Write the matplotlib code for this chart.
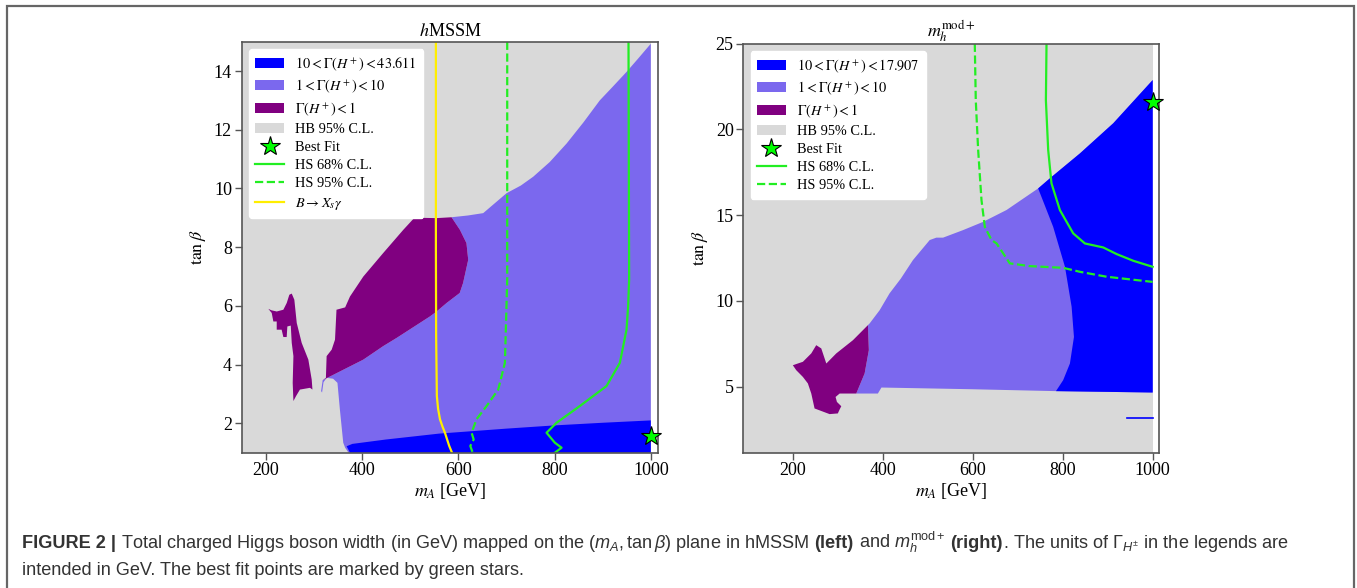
import matplotlib
matplotlib.use('Agg')
import matplotlib.pyplot as plt
from matplotlib.patches import Patch, Rectangle
from matplotlib.lines import Line2D

plt.rcParams['font.family'] = ['Liberation Serif', 'DejaVu Serif']
plt.rcParams['mathtext.fontset'] = 'stix'
# sans math for the caption (used through math_fontfamily='custom')
plt.rcParams['mathtext.rm'] = 'Liberation Sans'
plt.rcParams['mathtext.it'] = 'Liberation Sans:italic'
plt.rcParams['mathtext.bf'] = 'Liberation Sans:bold'

# ---------------- hMSSM (left) ----------------
hm_scan_mA = [150, 1000]
hm_scan_tb = [1, 15]

# 1 < Gamma < 10 region (drawn below the others)
hm_mid_mA = [372, 365, 361, 354, 349, 340, 326.5, 320, 317, 315, 318.3,
             402.7, 444, 472, 541, 555, 575.8, 603, 610, 620.7, 617, 603.5, 586,
             620, 651.8, 700.4, 730, 755.7, 790, 825, 860, 894, 920, 949.6, 975, 1000, 1000]
hm_mid_tb = [1.0, 1.17, 1.34, 2.48, 3.38, 3.52, 3.55, 3.4, 3.05, 3.1, 3.47,
             4.17, 4.63, 4.91, 5.64, 5.81, 6.1, 6.44, 6.78, 7.57, 8.14, 8.59, 9.02,
             9.08, 9.16, 9.84, 10.1, 10.4, 10.9, 11.53, 12.25, 13.0, 13.45, 13.97, 14.45, 14.93, 1.0]

# Gamma < 1 regions
hm_low_mA = [318.3, 325, 326.5, 337, 343.9, 347, 365, 375, 402.7, 444, 485.7, 506.5,
             524, 555, 586, 603.5, 617, 620.7, 610, 603, 575.8, 555, 541, 472, 444, 402.7]
hm_low_tb = [3.47, 3.55, 4.29, 4.51, 4.85, 5.87, 5.95, 6.32, 7.0, 7.8, 8.59, 8.96,
             9.0, 8.99, 9.02, 8.59, 8.14, 7.57, 6.78, 6.44, 6.1, 5.81, 5.64, 4.91, 4.63, 4.17]
hm_island_mA = [205.4, 212.4, 215.8, 222.8, 222.8, 233, 236.6, 243.5, 244.9, 252, 254,
                257.5, 256, 257.5, 263, 271, 292, 297, 295.5, 288.5, 274.7, 264.4,
                259.4, 254, 249, 243.6, 236.6, 222.8, 212]
hm_island_tb = [5.90, 5.76, 5.47, 5.47, 5.19, 5.19, 4.94, 4.94, 5.30, 5.33, 4.74,
                4.29, 3.38, 2.76, 2.93, 3.15, 3.21, 3.15, 3.49, 4.17, 4.74, 5.42,
                6.21, 6.42, 6.38, 6.10, 5.87, 5.81, 5.85]

# 10 < Gamma < 43.611 region
hm_high_mA = [375, 368, 380, 450, 560, 700, 800, 900, 1000, 1000]
hm_high_tb = [1.0, 1.22, 1.3, 1.45, 1.65, 1.82, 1.93, 2.02, 2.1, 1.0]

hm_bsg_mA = [553.5, 553.5, 554, 555.5, 558, 562, 567, 572.3, 581.2, 587]
hm_bsg_tb = [15, 8, 5, 2.93, 2.5, 2.14, 1.9, 1.68, 1.23, 1.0]
hm_hs95_mA = [701.7, 701.7, 696.9, 683, 658.9, 638, 627.7, 632, 625, 630]
hm_hs95_tb = [15, 6.9, 4.06, 3.15, 2.59, 2.14, 1.68, 1.45, 1.23, 1.0]
hm_hs68_mA = [953.7, 955, 953, 949.6, 935.7, 908, 852.6, 804.2, 783.4, 800.7, 814.6, 800.7]
hm_hs68_tb = [15, 6.9, 6.0, 5.19, 4.06, 3.27, 2.59, 2.02, 1.68, 1.34, 1.17, 1.0]
hm_best = (1000, 1.57)

# ---------------- m_h^mod+ (right) ----------------
md_scan_mA = [90, 1000]
md_scan_tb = [1.15, 25]

md_mid_mA = [341, 389, 397, 600, 785, 1000, 1000, 912.4, 838.2, 771.5, 745.4, 675,
             623, 578.5, 534, 519, 504.3, 467, 440, 415, 393, 370.8, 367, 369, 359.6]
md_mid_tb = [4.6, 4.6, 4.95, 4.85, 4.74, 4.66, 22.88, 20.36, 18.6, 17.15, 16.56, 15.30,
             14.61, 14.13, 13.69, 13.69, 13.55, 12.38, 11.3, 10.44, 9.46, 8.69, 8.59, 7.13, 5.77]
md_high_mA = [785, 1000, 1000, 912.4, 838.2, 771.5, 745.4, 778.8, 805, 819.8, 825, 816, 801]
md_high_tb = [4.74, 4.66, 22.88, 20.36, 18.6, 17.15, 16.56, 14.32, 11.99, 9.66, 7.9, 6.35, 5.38]
md_low_mA = [367, 369, 359.6, 341, 304, 295, 298, 307.7, 304, 300, 281.7, 248.3, 241,
             233.4, 222.3, 207.6, 200, 211, 222.3, 241, 252, 263.2, 274.4, 296.6, 333.6]
md_low_tb = [8.59, 7.13, 5.77, 4.6, 4.6, 4.4, 4.11, 3.86, 3.67, 3.44, 3.40, 3.73, 4.60,
             5.19, 5.57, 5.96, 6.25, 6.35, 6.45, 6.94, 7.42, 7.23, 6.35, 6.94, 7.71]
md_tail_mA = [943.6, 1000]
md_tail_tb = [3.2, 3.2]

md_hs68_mA = [764, 762.6, 767.7, 775, 793.7, 823.3, 849.4, 890, 920, 957, 1000]
md_hs68_tb = [25, 21.7, 18.8, 16.86, 15.3, 13.94, 13.35, 13.12, 12.73, 12.34, 11.99]
md_hs95_mA = [604.5, 606.7, 612, 619.4, 626.8, 641.7, 653, 682.4, 727, 801, 838, 897.7, 1000]
md_hs95_tb = [25, 21.7, 18.8, 15.88, 14.32, 13.55, 13.35, 12.19, 12.03, 11.93, 11.70, 11.41, 11.11]
md_best = (1000, 21.62)

c_high = '#0000ff'
c_mid = '#7b68ee'
c_low = '#800080'
c_hb = '#d9d9d9'
c_hs = '#22ee22'
c_bsg = '#ffee00'

fig = plt.figure(figsize=(13.57, 5.88), dpi=100)

# frame around the whole figure
fig.patches.append(Rectangle((7 / 1357, -0.1), 1347 / 1357, 1.1 - 6.5 / 588,
                             transform=fig.transFigure, fill=False,
                             edgecolor='#666666', lw=1.6))

axL = fig.add_axes([0.1781, 0.2301, 0.3068, 0.6990])
axR = fig.add_axes([0.5478, 0.2301, 0.3066, 0.6956])


def style(ax):
    for s in ax.spines.values():
        s.set_color('#555555')
        s.set_linewidth(1.2)
    ax.tick_params(direction='out', length=5, width=1.0, color='#555555',
                   labelsize=13, pad=2, top=False, right=False)
    ax.set_xlabel(r'$m_A$ [GeV]', fontsize=13, labelpad=1)
    ax.set_ylabel(r'$\tan\beta$', fontsize=13, labelpad=4)


def hb_box(ax, mA, tb):
    ax.fill([mA[0], mA[1], mA[1], mA[0]], [tb[0], tb[0], tb[1], tb[1]], color=c_hb, lw=0)


def make_legend(ax, top_label, with_bsg):
    h = [Patch(fc=c_high), Patch(fc=c_mid), Patch(fc=c_low), Patch(fc=c_hb),
         Line2D([], [], ls='none', marker='*', ms=15, mfc='lime', mec='black', mew=0.8),
         Line2D([], [], color=c_hs, lw=1.6),
         Line2D([], [], color=c_hs, lw=1.6, ls='--')]
    lab = [top_label, r'$1<\Gamma(H^+)<10$', r'$\Gamma(H^+)<1$', 'HB 95% C.L.',
           'Best Fit', 'HS 68% C.L.', 'HS 95% C.L.']
    if with_bsg:
        h.append(Line2D([], [], color=c_bsg, lw=1.6))
        lab.append(r'$B\to X_s\gamma$')
    leg = ax.legend(h, lab, loc='upper left', fontsize=10.3, labelspacing=0.36,
                    handlelength=2.0, handleheight=0.7, handletextpad=0.8,
                    borderaxespad=0.5, borderpad=0.45, fancybox=True,
                    framealpha=1, edgecolor='white')
    leg.set_zorder(10)


# left panel
ax = axL
hb_box(ax, hm_scan_mA, hm_scan_tb)
ax.fill(hm_mid_mA, hm_mid_tb, color=c_mid, lw=0)
ax.fill(hm_low_mA, hm_low_tb, color=c_low, lw=0)
ax.fill(hm_island_mA, hm_island_tb, color=c_low, lw=0)
ax.fill(hm_high_mA, hm_high_tb, color=c_high, lw=0)
ax.plot(hm_bsg_mA, hm_bsg_tb, color=c_bsg, lw=1.6)
ax.plot(hm_hs95_mA, hm_hs95_tb, color=c_hs, lw=1.6, ls='--')
ax.plot(hm_hs68_mA, hm_hs68_tb, color=c_hs, lw=1.6)
ax.plot(*hm_best, marker='*', ms=15, mfc='lime', mec='black', mew=0.8, zorder=5, clip_on=False)
ax.set_xlim(150, 1015)
ax.set_ylim(1, 15)
ax.set_xticks([200, 400, 600, 800, 1000])
ax.set_yticks([2, 4, 6, 8, 10, 12, 14])
ax.set_title(r'$h$MSSM', fontsize=13, pad=4)
style(ax)
make_legend(ax, r'$10<\Gamma(H^+)<43.611$', True)

# right panel
ax = axR
hb_box(ax, md_scan_mA, md_scan_tb)
ax.fill(md_mid_mA, md_mid_tb, color=c_mid, lw=0)
ax.fill(md_high_mA, md_high_tb, color=c_high, lw=0)
ax.fill(md_low_mA, md_low_tb, color=c_low, lw=0)
ax.plot(md_tail_mA, md_tail_tb, color=c_high, lw=1.2)
ax.plot(md_hs95_mA, md_hs95_tb, color=c_hs, lw=1.6, ls='--')
ax.plot(md_hs68_mA, md_hs68_tb, color=c_hs, lw=1.6)
ax.plot(*md_best, marker='*', ms=15, mfc='lime', mec='black', mew=0.8, zorder=5, clip_on=False)
ax.set_xlim(90, 1015)
ax.set_ylim(1.15, 25)
ax.set_xticks([200, 400, 600, 800, 1000])
ax.set_yticks([5, 10, 15, 20, 25])
ax.set_title(r'$m_h^{\rm mod+}$', fontsize=13, pad=2)
style(ax)
make_legend(ax, r'$10<\Gamma(H^+)<17.907$', False)

# caption
cap_kw = dict(fontsize=13.1, family='Liberation Sans', color='#333333',
              math_fontfamily='custom', va='baseline')
renderer = fig.canvas.get_renderer()


def text_width(s, **kw):
    t = fig.text(0, 0, s, **kw)
    w = t.get_window_extent(renderer=renderer).width
    t.remove()
    return w / fig.bbox.width


space = text_width('a a', **cap_kw) - text_width('aa', **cap_kw)


def caption_line(y, parts):
    x = 22 / 1357
    for s, wt in parts:
        if s == ' ':
            x += space
            continue
        t = fig.text(x, y, s, fontweight=wt, **cap_kw)
        x += t.get_window_extent(renderer=renderer).width / fig.bbox.width


caption_line(0.068, [('FIGURE 2 |', 'bold'), (' ', None),
                     (r'Total charged Higgs boson width (in GeV) mapped on the $(m_A, \tan\beta)$ plane in hMSSM', 'normal'),
                     (' ', None), ('(left)', 'bold'), (' ', None), (r'and $m_h^{\rm mod+}$', 'normal'),
                     (' ', None), ('(right)', 'bold'),
                     (r'. The units of $\Gamma_{H^{\pm}}$ in the legends are', 'normal')])
caption_line(0.022, [('intended in GeV. The best fit points are marked by green stars.', 'normal')])

fig.savefig('out.png', dpi=100)
